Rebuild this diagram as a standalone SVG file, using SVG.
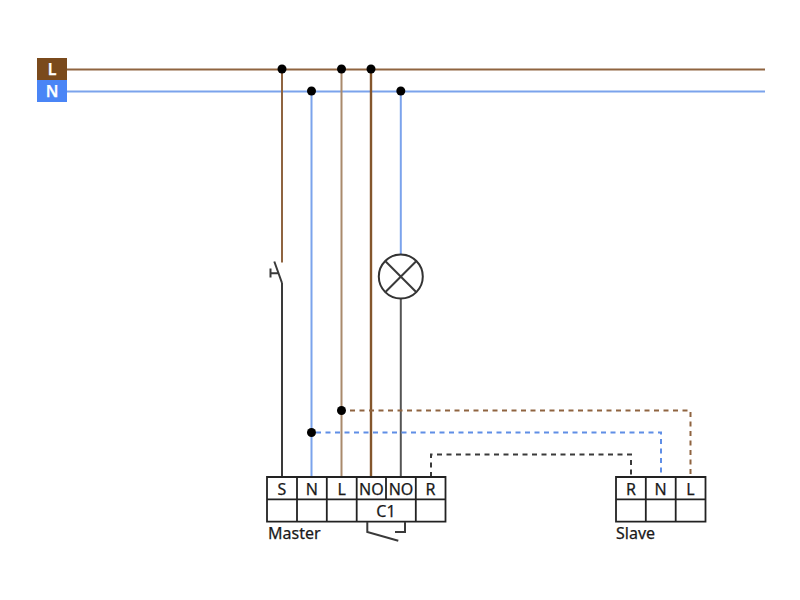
<svg xmlns="http://www.w3.org/2000/svg" width="800" height="600" viewBox="0 0 800 600">
<style>
text{font-family:"Noto Sans","Open Sans",sans-serif;font-size:16px;fill:#1a1a1a;text-anchor:middle;stroke:#1a1a1a;stroke-width:.25}
.w{fill:none;stroke-width:2}
.br{stroke:#8f6440}.bl{stroke:#7ba3ec}.bk{stroke:#3a3a3a}
.d{stroke-dasharray:5 4.500}
.cell{fill:none;stroke:#222;stroke-width:1.800}
.dot{fill:#000}
.bus{fill:#fff;stroke:#fff;font-weight:600}
</style>
<rect width="800" height="600" fill="#fff"/>
<g id="connectors">
<path class="w br" d="M67 69.500H765"/>
<path class="w bl" d="M67 91.500H765"/>
<path class="w br" d="M282 69.500V262.500"/>
<path class="w bl" d="M311.500 91.500V477"/>
<path class="w br" style="stroke:#a98a6c" d="M341.500 69.500V477"/>
<path class="w br" style="stroke:#84562c;stroke-width:2.400" d="M371 69.500V477"/>
<path class="w bl" d="M400.800 91.500V254"/>
<path class="w bk" d="M400.800 299V477" style="stroke:#555"/>
<path class="w bk" d="M282 283V477"/>
<path class="w br d" d="M350 410.500H690.500V477"/>
<path class="w bl d" style="stroke:#5f8ee6" d="M316 432.500H661V477"/>
<path class="w bk d" d="M431 477V454.500H631V477"/>
</g>
<g id="junctions">
<circle class="dot" cx="282" cy="69" r="4.500"/>
<circle class="dot" cx="341.500" cy="69" r="4.500"/>
<circle class="dot" cx="371" cy="69" r="4.500"/>
<circle class="dot" cx="311.500" cy="91" r="4.500"/>
<circle class="dot" cx="400.800" cy="91" r="4.500"/>
<circle class="dot" cx="341.500" cy="410.500" r="4.500"/>
<circle class="dot" cx="311.500" cy="432.500" r="4.500"/>
</g>
<g id="bus-L">
<rect x="37" y="58" width="30" height="22" fill="#7a4a1c"/>
<text class="bus" x="52" y="75">L</text>
</g>
<g id="bus-N">
<rect x="37" y="80" width="30" height="22" fill="#4a85f6"/>
<text class="bus" x="52" y="97">N</text>
</g>
<g id="switch">
<path class="w bk" d="M282 283L274.300 261.500M278 273.300H270.500M270.500 268.500V277.500"/>
</g>
<g id="lamp">
<circle cx="400.800" cy="276.600" r="22" fill="#fff" stroke="#333" stroke-width="2"/>
<path class="w bk" d="M385.200 261L416.400 292.200M416.400 261L385.200 292.200"/>
</g>
<g id="master">
<path class="cell" d="M267 477H445.500V521.700H267ZM267 499.300H445.500M297 477V521.700M326.800 477V521.700M356.700 477V521.700M386 477V499.300M415.800 477V521.700"/>
<text x="282" y="495">S</text>
<text x="311.800" y="495">N</text>
<text x="341.700" y="495">L</text>
<text x="371.300" y="495">NO</text>
<text x="401" y="495">NO</text>
<text x="430.600" y="495">R</text>
<text x="386" y="517">C1</text>
<text x="268" y="539" style="text-anchor:start">Master</text>
<path class="w bk" d="M367.300 522V532L398.300 540.700M405 522V532H395"/>
</g>
<g id="slave">
<path class="cell" d="M616 477H705.500V521.700H616ZM616 499.300H705.500M645.800 477V521.700M675.700 477V521.700"/>
<text x="631" y="495">R</text>
<text x="660.700" y="495">N</text>
<text x="690.500" y="495">L</text>
<text x="616" y="539" style="text-anchor:start">Slave</text>
</g>
</svg>
